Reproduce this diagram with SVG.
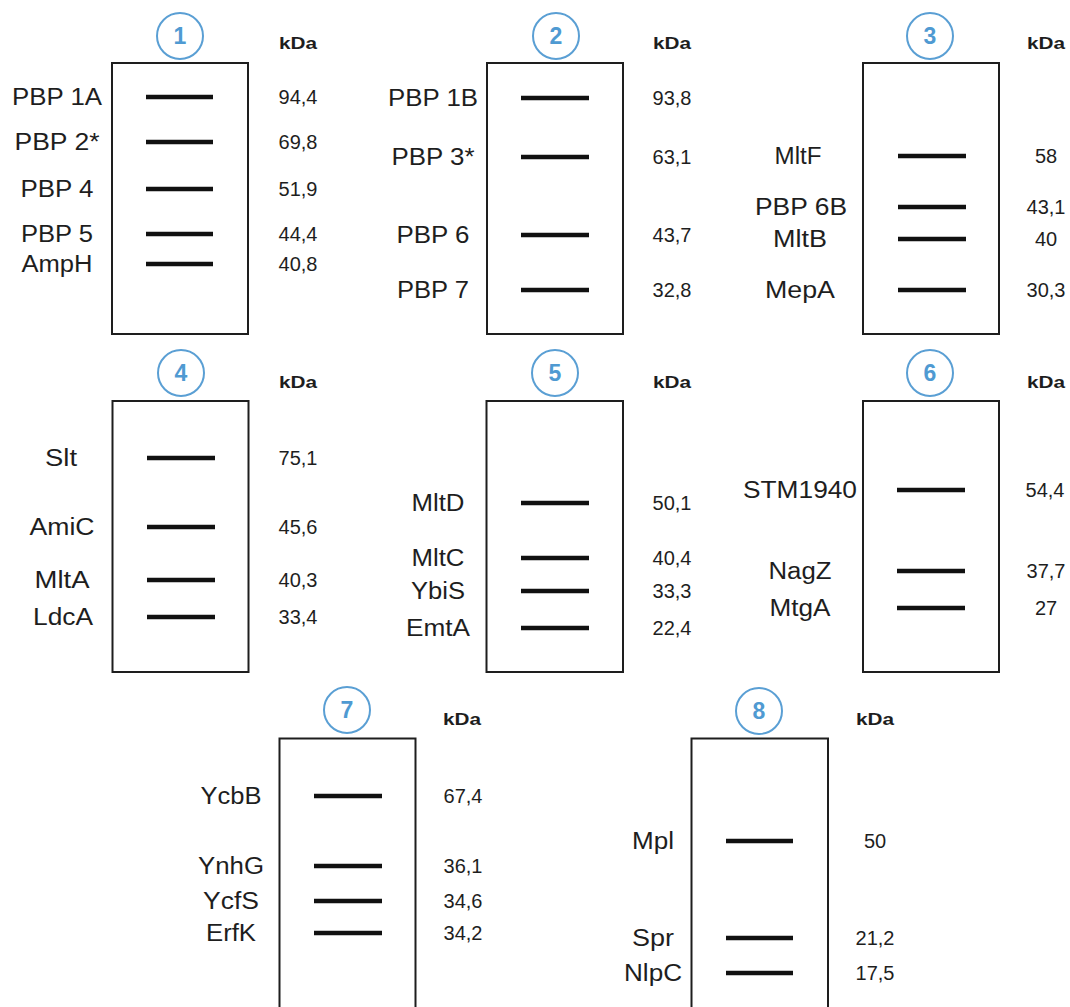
<svg xmlns="http://www.w3.org/2000/svg" width="1070" height="1007" viewBox="0 0 1070 1007">
<style>
.bg{fill:#ffffff}
.lane{fill:none;stroke:#1e1e1e;stroke-width:2}
.band{stroke:#111;stroke-width:4.5;stroke-linecap:butt}
.num{fill:none;stroke:#5a9fd4;stroke-width:2}
.numt{font-family:"Liberation Sans",Arial,sans-serif;font-size:23px;font-weight:bold;fill:#4f9ad2;text-anchor:middle}
.kda{font-family:"Liberation Sans",Arial,sans-serif;font-size:17px;font-weight:bold;fill:#1e1e1e}
.lbl{font-family:"Liberation Sans",Arial,sans-serif;font-size:23px;fill:#1e1e1e;text-anchor:middle}
.val{font-family:"Liberation Sans",Arial,sans-serif;font-size:20px;fill:#1e1e1e;text-anchor:middle}
</style>
<rect class="bg" x="0" y="0" width="1070" height="1007"/>

<g id="panel1">
<circle class="num" cx="180" cy="36" r="23"/><text class="numt" x="180" y="44">1</text>
<text class="kda" x="279" y="49" textLength="38" lengthAdjust="spacingAndGlyphs">kDa</text>
<rect class="lane" x="112" y="63" width="136" height="271"/>
<line class="band" x1="146" y1="97" x2="213" y2="97"/>
<line class="band" x1="146" y1="142" x2="213" y2="142"/>
<line class="band" x1="146" y1="189" x2="213" y2="189"/>
<line class="band" x1="146" y1="234" x2="213" y2="234"/>
<line class="band" x1="146" y1="264" x2="213" y2="264"/>
<text class="lbl" x="57" y="105" textLength="90" lengthAdjust="spacingAndGlyphs">PBP 1A</text>
<text class="lbl" x="57" y="150" textLength="85" lengthAdjust="spacingAndGlyphs">PBP 2*</text>
<text class="lbl" x="57" y="197" textLength="73" lengthAdjust="spacingAndGlyphs">PBP 4</text>
<text class="lbl" x="57" y="242" textLength="72" lengthAdjust="spacingAndGlyphs">PBP 5</text>
<text class="lbl" x="57" y="272" textLength="71" lengthAdjust="spacingAndGlyphs">AmpH</text>
<text class="val" x="298" y="104">94,4</text>
<text class="val" x="298" y="149">69,8</text>
<text class="val" x="298" y="196">51,9</text>
<text class="val" x="298" y="241">44,4</text>
<text class="val" x="298" y="271">40,8</text>
</g>

<g id="panel2">
<circle class="num" cx="556" cy="36" r="23"/><text class="numt" x="556" y="44">2</text>
<text class="kda" x="653" y="49" textLength="38" lengthAdjust="spacingAndGlyphs">kDa</text>
<rect class="lane" x="487" y="63" width="136" height="271"/>
<line class="band" x1="521" y1="98" x2="589" y2="98"/>
<line class="band" x1="521" y1="157" x2="589" y2="157"/>
<line class="band" x1="521" y1="235" x2="589" y2="235"/>
<line class="band" x1="521" y1="290" x2="589" y2="290"/>
<text class="lbl" x="433" y="106" textLength="90" lengthAdjust="spacingAndGlyphs">PBP 1B</text>
<text class="lbl" x="433" y="165" textLength="83" lengthAdjust="spacingAndGlyphs">PBP 3*</text>
<text class="lbl" x="433" y="243" textLength="73" lengthAdjust="spacingAndGlyphs">PBP 6</text>
<text class="lbl" x="433" y="298" textLength="72" lengthAdjust="spacingAndGlyphs">PBP 7</text>
<text class="val" x="672" y="105">93,8</text>
<text class="val" x="672" y="164">63,1</text>
<text class="val" x="672" y="242">43,7</text>
<text class="val" x="672" y="297">32,8</text>
</g>

<g id="panel3">
<circle class="num" cx="930" cy="36" r="23"/><text class="numt" x="930" y="44">3</text>
<text class="kda" x="1027" y="49" textLength="38" lengthAdjust="spacingAndGlyphs">kDa</text>
<rect class="lane" x="863" y="63" width="136" height="271"/>
<line class="band" x1="898" y1="156" x2="966" y2="156"/>
<line class="band" x1="898" y1="207" x2="966" y2="207"/>
<line class="band" x1="898" y1="239" x2="966" y2="239"/>
<line class="band" x1="898" y1="290" x2="966" y2="290"/>
<text class="lbl" x="798" y="164" textLength="47" lengthAdjust="spacingAndGlyphs">MltF</text>
<text class="lbl" x="801" y="215" textLength="92" lengthAdjust="spacingAndGlyphs">PBP 6B</text>
<text class="lbl" x="800" y="247" textLength="54" lengthAdjust="spacingAndGlyphs">MltB</text>
<text class="lbl" x="800" y="298" textLength="70" lengthAdjust="spacingAndGlyphs">MepA</text>
<text class="val" x="1046" y="163">58</text>
<text class="val" x="1046" y="214">43,1</text>
<text class="val" x="1046" y="246">40</text>
<text class="val" x="1046" y="297">30,3</text>
</g>

<g id="panel4">
<circle class="num" cx="181" cy="373" r="23"/><text class="numt" x="181" y="381">4</text>
<text class="kda" x="279" y="388" textLength="38" lengthAdjust="spacingAndGlyphs">kDa</text>
<rect class="lane" x="112.5" y="401" width="136" height="271"/>
<line class="band" x1="147" y1="458" x2="215" y2="458"/>
<line class="band" x1="147" y1="527" x2="215" y2="527"/>
<line class="band" x1="147" y1="580" x2="215" y2="580"/>
<line class="band" x1="147" y1="617" x2="215" y2="617"/>
<text class="lbl" x="61" y="466" textLength="32" lengthAdjust="spacingAndGlyphs">Slt</text>
<text class="lbl" x="62" y="535" textLength="65" lengthAdjust="spacingAndGlyphs">AmiC</text>
<text class="lbl" x="62" y="588" textLength="55" lengthAdjust="spacingAndGlyphs">MltA</text>
<text class="lbl" x="63" y="625" textLength="60" lengthAdjust="spacingAndGlyphs">LdcA</text>
<text class="val" x="298" y="465">75,1</text>
<text class="val" x="298" y="534">45,6</text>
<text class="val" x="298" y="587">40,3</text>
<text class="val" x="298" y="624">33,4</text>
</g>

<g id="panel5">
<circle class="num" cx="555" cy="373" r="23"/><text class="numt" x="555" y="381">5</text>
<text class="kda" x="653" y="388" textLength="38" lengthAdjust="spacingAndGlyphs">kDa</text>
<rect class="lane" x="486.5" y="401" width="136.5" height="271"/>
<line class="band" x1="521" y1="503" x2="589" y2="503"/>
<line class="band" x1="521" y1="558" x2="589" y2="558"/>
<line class="band" x1="521" y1="591" x2="589" y2="591"/>
<line class="band" x1="521" y1="628" x2="589" y2="628"/>
<text class="lbl" x="438" y="511" textLength="53" lengthAdjust="spacingAndGlyphs">MltD</text>
<text class="lbl" x="438" y="566" textLength="53" lengthAdjust="spacingAndGlyphs">MltC</text>
<text class="lbl" x="438" y="599" textLength="54" lengthAdjust="spacingAndGlyphs">YbiS</text>
<text class="lbl" x="438" y="636" textLength="64" lengthAdjust="spacingAndGlyphs">EmtA</text>
<text class="val" x="672" y="510">50,1</text>
<text class="val" x="672" y="565">40,4</text>
<text class="val" x="672" y="598">33,3</text>
<text class="val" x="672" y="635">22,4</text>
</g>

<g id="panel6">
<circle class="num" cx="930" cy="373" r="23"/><text class="numt" x="930" y="381">6</text>
<text class="kda" x="1027" y="388" textLength="38" lengthAdjust="spacingAndGlyphs">kDa</text>
<rect class="lane" x="863" y="401" width="136" height="271"/>
<line class="band" x1="897" y1="490" x2="965" y2="490"/>
<line class="band" x1="897" y1="571" x2="965" y2="571"/>
<line class="band" x1="897" y1="608" x2="965" y2="608"/>
<text class="lbl" x="800" y="498" textLength="114" lengthAdjust="spacingAndGlyphs">STM1940</text>
<text class="lbl" x="800" y="579" textLength="63" lengthAdjust="spacingAndGlyphs">NagZ</text>
<text class="lbl" x="800" y="616" textLength="61" lengthAdjust="spacingAndGlyphs">MtgA</text>
<text class="val" x="1045" y="497">54,4</text>
<text class="val" x="1046" y="578">37,7</text>
<text class="val" x="1046" y="615">27</text>
</g>

<g id="panel7">
<circle class="num" cx="347" cy="710" r="23"/><text class="numt" x="347" y="718">7</text>
<text class="kda" x="443" y="725" textLength="38" lengthAdjust="spacingAndGlyphs">kDa</text>
<path class="lane" d="M279.5,1010 V738.5 H415.5 V1010"/>
<line class="band" x1="314" y1="796" x2="382" y2="796"/>
<line class="band" x1="314" y1="866" x2="382" y2="866"/>
<line class="band" x1="314" y1="901" x2="382" y2="901"/>
<line class="band" x1="314" y1="933" x2="382" y2="933"/>
<text class="lbl" x="231" y="804" textLength="61" lengthAdjust="spacingAndGlyphs">YcbB</text>
<text class="lbl" x="231" y="874" textLength="66" lengthAdjust="spacingAndGlyphs">YnhG</text>
<text class="lbl" x="231" y="909" textLength="56" lengthAdjust="spacingAndGlyphs">YcfS</text>
<text class="lbl" x="231" y="941" textLength="50" lengthAdjust="spacingAndGlyphs">ErfK</text>
<text class="val" x="463" y="803">67,4</text>
<text class="val" x="463" y="873">36,1</text>
<text class="val" x="463" y="908">34,6</text>
<text class="val" x="463" y="940">34,2</text>
</g>

<g id="panel8">
<circle class="num" cx="759" cy="711" r="23"/><text class="numt" x="759" y="719">8</text>
<text class="kda" x="856" y="725" textLength="38" lengthAdjust="spacingAndGlyphs">kDa</text>
<path class="lane" d="M691.5,1010 V738.5 H828 V1010"/>
<line class="band" x1="726" y1="841" x2="793" y2="841"/>
<line class="band" x1="726" y1="938" x2="793" y2="938"/>
<line class="band" x1="726" y1="973" x2="793" y2="973"/>
<text class="lbl" x="653" y="849" textLength="42" lengthAdjust="spacingAndGlyphs">Mpl</text>
<text class="lbl" x="653" y="946" textLength="42" lengthAdjust="spacingAndGlyphs">Spr</text>
<text class="lbl" x="653" y="981" textLength="58" lengthAdjust="spacingAndGlyphs">NlpC</text>
<text class="val" x="875" y="848">50</text>
<text class="val" x="875" y="945">21,2</text>
<text class="val" x="875" y="980">17,5</text>
</g>
</svg>
